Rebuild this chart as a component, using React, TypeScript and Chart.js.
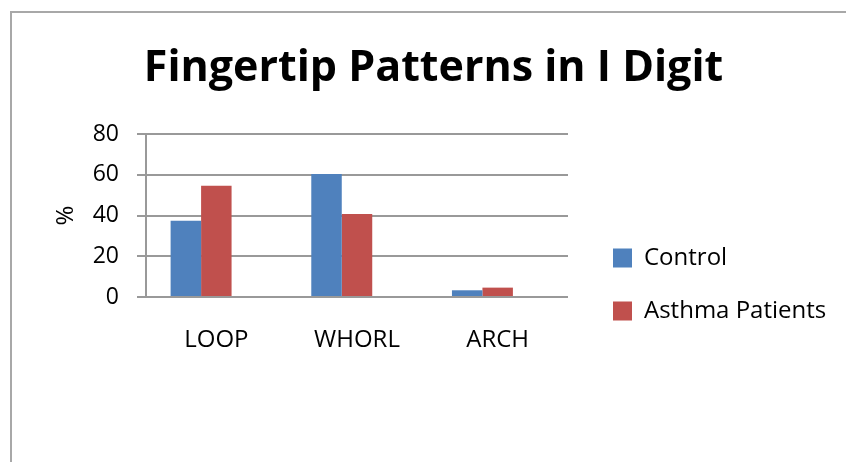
import React, { useEffect, useRef } from "react";
import { Chart, registerables } from "chart.js";

Chart.register(...registerables);

const categories = ["LOOP", "WHORL", "ARCH"];
const controlValues = [37.4, 60.4, 3.3];
const asthmaValues = [54.6, 40.7, 4.6];
// the original chart reserves a third (empty) bar slot in every group
const emptySlotValues = [null, null, null];
const seriesNames = ["Control", "Asthma Patients"];
const chartTitle = "Fingertip Patterns in I Digit";
const yAxisTitle = "%";
const yMin = 0;
const yMax = 80;
const yStep = 20;

const FONT = "'Open Sans', sans-serif";
const LEGEND_SIZE = 24;

export default function App() {
  const ref = useRef<HTMLCanvasElement | null>(null);

  useEffect(() => {
    if (!ref.current) return;
    const mctx = document.createElement("canvas").getContext("2d")!;
    mctx.font = `normal ${LEGEND_SIZE}px ${FONT}`;
    const textW = Math.max(...seriesNames.map((s) => mctx.measureText(s).width));
    const legendPad = 29;
    const legendBox = 19;
    const legendWidth = legendPad + legendBox + LEGEND_SIZE / 2 + textW + 10;
    const legendLeft = 584;
    const plotRight = 568;
    const plotLeft = 146;
    const padRight = 846 - legendLeft - legendWidth;
    const padLeft = 21 + padRight;
    const pctCenter = 66;
    const pctLine = 24 * 1.2;

    const chart = new Chart(ref.current, {
      type: "bar",
      data: {
        labels: categories,
        datasets: [
          {
            label: seriesNames[0],
            data: controlValues,
            backgroundColor: "#4F81BD",
            borderWidth: 0,
          },
          {
            label: seriesNames[1],
            data: asthmaValues,
            backgroundColor: "#C0504D",
            borderWidth: 0,
          },
          {
            label: "",
            data: emptySlotValues,
            backgroundColor: "rgba(0,0,0,0)",
            borderWidth: 0,
          },
        ],
      },
      options: {
        responsive: false,
        animation: false,
        devicePixelRatio: 1,
        datasets: {
          bar: { categoryPercentage: 0.65, barPercentage: 1 },
        },
        layout: { padding: { top: 12, left: padLeft, right: padRight, bottom: 110 } },
        plugins: {
          tooltip: { enabled: false },
          title: {
            display: true,
            text: chartTitle,
            color: "#000",
            font: { family: FONT, size: 43, weight: "bold" },
            padding: { top: 30.9, bottom: 39.5 },
          },
          legend: {
            display: true,
            position: "right",
            align: "end",
            maxWidth: 400,
            labels: {
              color: "#000",
              font: { family: FONT, size: LEGEND_SIZE },
              boxWidth: legendBox,
              boxHeight: legendBox,
              padding: legendPad,
              filter: (item: any) => !!item.text,
            },
          },
        },
        scales: {
          x: {
            grid: { display: false, drawTicks: false },
            border: { display: false },
            ticks: {
              color: "#000",
              font: { family: FONT, size: 24 },
              padding: 29,
            },
            afterFit: (s: any) => {
              s.height = 55;
            },
          },
          y: {
            min: yMin,
            max: yMax,
            ticks: {
              stepSize: yStep,
              color: "#000",
              font: { family: FONT, size: 23 },
              padding: 18,
            },
            grid: { color: "#999", lineWidth: 2, tickLength: 9 },
            border: { display: true, color: "#999", width: 2 },
            title: {
              display: true,
              text: yAxisTitle,
              color: "#000",
              font: { family: FONT, size: 24 },
              padding: { top: pctCenter - pctLine / 2 - padLeft, bottom: 0 },
            },
            afterFit: (s: any) => {
              s.width = plotLeft - padLeft;
            },
          },
          y2: {
            type: "linear",
            position: "right",
            display: true,
            grid: { display: false, drawTicks: false },
            border: { display: false },
            ticks: { display: false },
            afterFit: (s: any) => {
              s.width = legendLeft - plotRight;
            },
          },
        },
      },
    });
    return () => chart.destroy();
  }, []);

  return (
    <div
      style={{
        position: "fixed",
        left: 0,
        top: 0,
        width: 846,
        height: 462,
        overflow: "hidden",
        background: "#fff",
      }}
    >
      <div
        style={{
          position: "absolute",
          left: 10,
          top: 11,
          width: 900,
          height: 600,
          borderLeft: "2px solid #a8a8a8",
          borderTop: "2px solid #a8a8a8",
        }}
      />
      <canvas
        ref={ref}
        width={846}
        height={462}
        style={{ position: "absolute", left: 0, top: 0, width: 846, height: 462 }}
      />
    </div>
  );
}
